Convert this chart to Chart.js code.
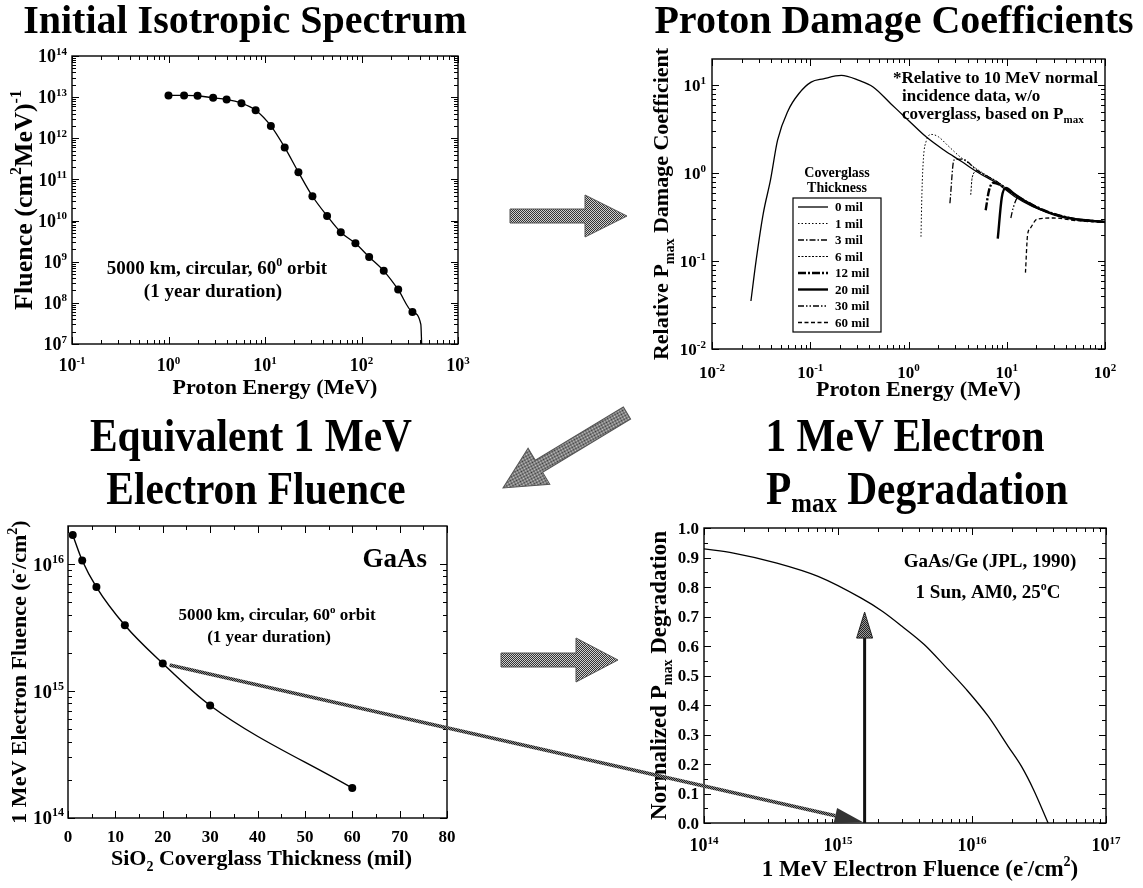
<!DOCTYPE html>
<html>
<head>
<meta charset="utf-8">
<script src="https://cdn.jsdelivr.net/npm/chart.js@4.4.0/dist/chart.umd.min.js"></script>
<style>
  body { margin: 0; background: #fff; }
  #wrap { position: relative; width: 1143px; height: 888px; overflow: hidden; }
  #wrap canvas { position: absolute; left: 0; top: 0; }
  .ttl { position: absolute; font-family: "Liberation Serif", "Times New Roman", serif; font-weight: bold;
         color: #000; white-space: nowrap; line-height: 1; transform: translateX(-50%); }
  .tall { font-size: 46px; transform: translateX(-50%) scaleX(0.9); }
  .ttl sub { font-size: 0.6em; vertical-align: -0.3em; line-height: 0; }
</style>
</head>
<body>
<div id="wrap">
  <canvas id="c1" width="1143" height="888"></canvas>
  <canvas id="c2" width="1143" height="888"></canvas>
  <canvas id="c3" width="1143" height="888"></canvas>
  <canvas id="c4" width="1143" height="888"></canvas>
  <canvas id="ov" width="1143" height="888"></canvas>
  <div class="ttl" style="left:245px;top:0px;font-size:40px">Initial Isotropic Spectrum</div>
  <div class="ttl" style="left:894px;top:0px;font-size:40px">Proton Damage Coefficients</div>
  <div class="ttl tall" style="left:251px;top:413px">Equivalent 1 MeV</div>
  <div class="ttl tall" style="left:256px;top:466px">Electron Fluence</div>
  <div class="ttl tall" style="left:905px;top:413px">1 MeV Electron</div>
  <div class="ttl tall" style="left:917px;top:466px">P<sub>max</sub> Degradation</div>
</div>
<script>
// ---- panel 1: initial isotropic spectrum (MeV, (cm^2 MeV)^-1)
const spectrumEnergy  = [1.0, 1.45, 2.0, 2.9, 4.0, 5.7, 8.0, 11.5, 16, 22.2, 31, 44, 61, 86.5, 120, 170, 240, 337];
const spectrumFluence = [1.1e13, 1.1e13, 1.08e13, 9.6e12, 8.8e12, 7.1e12, 4.8e12, 2.0e12, 6.0e11, 1.5e11,
                         3.9e10, 1.3e10, 5.2e9, 2.8e9, 1.3e9, 6.0e8, 2.1e8, 6.0e7];
const spectrumTailEnergy  = [412, 420];
const spectrumTailFluence = [3.0e7, 1.0e7];

// ---- panel 2: relative Pmax damage coefficients
const coverLabels = ['0 mil', '1 mil', '3 mil', '6 mil', '12 mil', '20 mil', '30 mil', '60 mil'];
const cg0E = [0.0249, 0.0282, 0.0333, 0.0394, 0.0465, 0.0596, 0.0764, 0.102, 0.136, 0.207, 0.313, 0.436, 0.66,
              1.0, 1.51, 2.29, 3.47, 5.26, 7.96, 12.0, 18.2, 27.6, 41.8, 63.4, 100];
const cg0Y = [0.0352, 0.104, 0.352, 0.84, 2.38, 5.2, 8.05, 10.9, 11.9, 13.0, 11.4, 9.6, 6.2,
              4.0, 2.6, 1.84, 1.36, 1.0, 0.77, 0.545, 0.42, 0.352, 0.31, 0.296, 0.277];
const cg1E = [1.34, 1.37, 1.42, 1.51, 1.71, 2.02, 2.49, 3.33, 4.84, 7.33, 11.1, 16.8, 27.6, 50, 100];
const cg1Y = [0.19, 0.6, 1.5, 2.3, 2.77, 2.6, 2.09, 1.55, 1.14, 0.84, 0.62, 0.457, 0.36, 0.3, 0.28];
const cg3E = [2.64, 2.9, 3.5, 5, 8, 12, 18, 28, 50, 100];
const cg3Y = [0.456, 1.41, 1.45, 1.08, 0.8, 0.57, 0.43, 0.355, 0.3, 0.28];
const cg6E = [4.3, 4.45, 5, 6, 8, 12, 18, 28, 50, 100];
const cg6Y = [0.57, 0.9, 1.06, 0.95, 0.8, 0.58, 0.44, 0.355, 0.3, 0.28];
const cg12E = [6.1, 6.6, 7.3, 8.5, 10, 13, 18, 28, 50, 100];
const cg12Y = [0.38, 0.64, 0.78, 0.74, 0.66, 0.54, 0.44, 0.355, 0.3, 0.28];
const cg20E = [8.1, 8.9, 9.8, 12, 16, 22, 30, 50, 100];
const cg20Y = [0.18, 0.53, 0.68, 0.58, 0.47, 0.39, 0.34, 0.3, 0.28];
const cg30E = [11.0, 11.6, 13, 16, 22, 30, 50, 100];
const cg30Y = [0.31, 0.40, 0.53, 0.47, 0.39, 0.34, 0.3, 0.28];
const cg60E = [15.5, 16.3, 17.5, 20.2, 30, 50, 100];
const cg60Y = [0.074, 0.2, 0.24, 0.30, 0.31, 0.29, 0.275];

// ---- panel 3: equivalent 1 MeV electron fluence vs coverglass thickness
const glassMil = [1, 3, 6, 12, 20, 30, 60];
const equivFluence = [1.7e16, 1.07e16, 6.6e15, 3.3e15, 1.65e15, 7.7e14, 1.72e14];

// ---- panel 4: GaAs/Ge Pmax degradation
const elecFluence = [1e14, 1.66e14, 3.5e14, 7.1e14, 1.48e15, 2.14e15, 3.0e15, 4.4e15, 6.3e15, 9.1e15,
                     1.32e16, 1.86e16, 2.34e16, 2.88e16, 3.7e16];
const pmaxRatio = [0.929, 0.915, 0.881, 0.836, 0.763, 0.718, 0.667, 0.605, 0.531, 0.452,
                   0.362, 0.26, 0.192, 0.113, 0.0];
const pickThickness = 20;          // mil, read across to panel 4
const pickFluence = 1.58e15;       // e-/cm2
const pickPmax = 0.715;

// ---- tick labels
const p1XTicks = [0.1, 1, 10, 100, 1000];
const p1XLabels = ['10^{-1}', '10^{0}', '10^{1}', '10^{2}', '10^{3}'];
const p1YTicks = [1e7, 1e8, 1e9, 1e10, 1e11, 1e12, 1e13, 1e14];
const p1YLabels = ['10^{7}', '10^{8}', '10^{9}', '10^{10}', '10^{11}', '10^{12}', '10^{13}', '10^{14}'];
const p2XTicks = [0.01, 0.1, 1, 10, 100];
const p2XLabels = ['10^{-2}', '10^{-1}', '10^{0}', '10^{1}', '10^{2}'];
const p2YTicks = [0.01, 0.1, 1, 10];
const p2YLabels = ['10^{-2}', '10^{-1}', '10^{0}', '10^{1}'];
const p3XTicks = [0, 10, 20, 30, 40, 50, 60, 70, 80];
const p3XLabels = ['0', '10', '20', '30', '40', '50', '60', '70', '80'];
const p3YTicks = [1e14, 1e15, 1e16];
const p3YLabels = ['10^{14}', '10^{15}', '10^{16}'];
const p4XTicks = [1e14, 1e15, 1e16, 1e17];
const p4XLabels = ['10^{14}', '10^{15}', '10^{16}', '10^{17}'];
const p4YTicks = [0, 0.1, 0.2, 0.3, 0.4, 0.5, 0.6, 0.7, 0.8, 0.9, 1.0];
const p4YLabels = ['0.0', '0.1', '0.2', '0.3', '0.4', '0.5', '0.6', '0.7', '0.8', '0.9', '1.0'];

const SERIF = '"Liberation Serif", "Times New Roman", serif';
const W = 1143, H = 888;

// text with ^{sup} and _{sub} parts, centred vertically on y
function richText(ctx, str, x, y, size, align, angle) {
  const parts = str.split(/(\^\{[^}]*\}|_\{[^}]*\})/).filter(s => s).map(s => {
    if (s.startsWith('^{')) return { t: s.slice(2, -1), k: 'sup' };
    if (s.startsWith('_{')) return { t: s.slice(2, -1), k: 'sub' };
    return { t: s, k: '' };
  });
  const fontOf = k => `bold ${k ? Math.round(size * 0.62) : size}px ${SERIF}`;
  let w = 0;
  parts.forEach(p => { ctx.font = fontOf(p.k); p.w = ctx.measureText(p.t).width; w += p.w; });
  ctx.save();
  ctx.translate(x, y);
  if (angle) ctx.rotate(angle);
  ctx.fillStyle = '#000';
  ctx.textAlign = 'left';
  ctx.textBaseline = 'alphabetic';
  let cx = align === 'left' ? 0 : align === 'right' ? -w : -w / 2;
  parts.forEach(p => {
    ctx.font = fontOf(p.k);
    const dy = p.k === 'sup' ? -size * 0.42 : p.k === 'sub' ? size * 0.25 : 0;
    ctx.fillText(p.t, cx, size * 0.34 + dy);
    cx += p.w;
  });
  ctx.restore();
}

function logMinors(lo, hi) {
  const out = [];
  for (let e = Math.floor(Math.log10(lo)); e <= Math.ceil(Math.log10(hi)); e++) {
    for (let k = 2; k <= 9; k++) {
      const v = k * Math.pow(10, e);
      if (v > lo && v < hi) out.push(v);
    }
  }
  return out;
}
function linMinors(lo, hi, step) {
  const out = [];
  for (let v = lo + step; v < hi - 1e-9; v += step) out.push(+v.toFixed(6));
  return out;
}

// box, inward ticks on all four sides, labels and titles
function frame(o) {
  return {
    id: 'frame',
    afterDatasetsDraw(chart) {
      const { ctx, chartArea: a } = chart;
      const sx = chart.scales.x, sy = chart.scales.y;
      ctx.save();
      ctx.strokeStyle = '#000';
      ctx.lineWidth = 1;
      ctx.beginPath();
      const put = (len, vals, scale, horiz) => vals.forEach(v => {
        const p = Math.round(scale.getPixelForValue(v)) + 0.5;
        if (horiz) {
          ctx.moveTo(p, a.bottom); ctx.lineTo(p, a.bottom - len);
          ctx.moveTo(p, a.top); ctx.lineTo(p, a.top + len);
        } else {
          ctx.moveTo(a.left, p); ctx.lineTo(a.left + len, p);
          ctx.moveTo(a.right, p); ctx.lineTo(a.right - len, p);
        }
      });
      put(7, o.xMajor, sx, true);
      put(4, o.xMinor, sx, true);
      put(7, o.yMajor, sy, false);
      put(4, o.yMinor, sy, false);
      ctx.stroke();
      ctx.lineWidth = 1.4;
      ctx.strokeRect(a.left, a.top, a.right - a.left, a.bottom - a.top);
      o.xMajor.forEach((v, i) => richText(ctx, o.xLabels[i], sx.getPixelForValue(v), a.bottom + o.xLabelDy, o.tickSize, 'center'));
      o.yMajor.forEach((v, i) => richText(ctx, o.yLabels[i], a.left - o.yLabelDx, sy.getPixelForValue(v), o.yTickSize || o.tickSize, 'right'));
      richText(ctx, o.xTitle, (a.left + a.right) / 2 + (o.xTitleShift || 0), a.bottom + o.xTitleDy, o.titleSize, 'center');
      richText(ctx, o.yTitle, o.yTitleX, (a.top + a.bottom) / 2, o.yTitleSize || o.titleSize, 'center', -Math.PI / 2);
      (o.notes || []).forEach(n => richText(ctx, n.text, n.x, n.y, n.size, n.align || 'center'));
      ctx.restore();
    }
  };
}

function pts(xs, ys) { return xs.map((x, i) => ({ x, y: ys[i] })); }

function options(plot, xs, ys) {
  return {
    responsive: false, animation: false, devicePixelRatio: 1, events: [],
    layout: { padding: { left: plot.l, top: plot.t, right: W - plot.r, bottom: H - plot.b } },
    plugins: { legend: { display: false }, tooltip: { enabled: false } },
    scales: { x: Object.assign({ display: false }, xs), y: Object.assign({ display: false }, ys) }
  };
}

const lineDs = (data, extra) => Object.assign({
  data, borderColor: '#000', borderWidth: 1.3, pointRadius: 0, fill: false,
  cubicInterpolationMode: 'monotone'
}, extra);
const dotDs = data => ({ data, showLine: false, pointRadius: 4, pointBackgroundColor: '#000', pointBorderWidth: 0 });

// ---------- panel 1
const chart1 = new Chart(document.getElementById('c1'), {
  type: 'line',
  data: {
    datasets: [
      lineDs(pts(spectrumEnergy.concat(spectrumTailEnergy), spectrumFluence.concat(spectrumTailFluence))),
      dotDs(pts(spectrumEnergy, spectrumFluence))
    ]
  },
  options: options({ l: 72, t: 56, r: 458, b: 344 },
    { type: 'logarithmic', min: 0.1, max: 1000 },
    { type: 'logarithmic', min: 1e7, max: 1e14 }),
  plugins: [frame({
    xMajor: p1XTicks, xLabels: p1XLabels, xMinor: logMinors(0.1, 1000),
    yMajor: p1YTicks, yLabels: p1YLabels, yMinor: logMinors(1e7, 1e14),
    tickSize: 18, xLabelDy: 21, yLabelDx: 5,
    titleSize: 22, xTitle: 'Proton Energy (MeV)', xTitleDy: 43, xTitleShift: 10,
    yTitle: 'Fluence (cm^{2}MeV)^{-1}', yTitleX: 23, yTitleSize: 26,
    notes: [
      { text: '5000 km, circular, 60^{0} orbit', x: 217, y: 268, size: 19 },
      { text: '(1 year duration)', x: 213, y: 291, size: 19 }
    ]
  })]
});

// ---------- panel 2
const coverE = [cg0E, cg1E, cg3E, cg6E, cg12E, cg20E, cg30E, cg60E];
const coverY = [cg0Y, cg1Y, cg3Y, cg6Y, cg12Y, cg20Y, cg30Y, cg60Y];
const coverStyle = [
  { borderWidth: 1.3, borderDash: [] },
  { borderWidth: 1, borderDash: [1.5, 2] },
  { borderWidth: 1.3, borderDash: [6, 2, 1.5, 2] },
  { borderWidth: 1, borderDash: [2, 1.5] },
  { borderWidth: 2.4, borderDash: [8, 2, 2, 2] },
  { borderWidth: 2.4, borderDash: [] },
  { borderWidth: 1.3, borderDash: [6, 2, 1.5, 2, 1.5, 2] },
  { borderWidth: 1.3, borderDash: [4, 2.5] }
];

const coverLegend = {
  id: 'coverLegend',
  afterDatasetsDraw(chart) {
    const ctx = chart.ctx;
    const bx = 793, by = 198, bw = 88, bh = 134;
    ctx.save();
    richText(ctx, 'Coverglass', bx + bw / 2, by - 26, 14, 'center');
    richText(ctx, 'Thickness', bx + bw / 2, by - 11, 14, 'center');
    ctx.fillStyle = '#fff';
    ctx.fillRect(bx, by, bw, bh);
    ctx.strokeStyle = '#000';
    ctx.lineWidth = 1.2;
    ctx.strokeRect(bx, by, bw, bh);
    chart.data.datasets.forEach((ds, i) => {
      const y = by + 9 + i * 16.5;
      ctx.beginPath();
      ctx.setLineDash(ds.borderDash);
      ctx.lineWidth = ds.borderWidth;
      ctx.moveTo(bx + 5, y); ctx.lineTo(bx + 35, y);
      ctx.stroke();
      ctx.setLineDash([]);
      richText(ctx, coverLabels[i], bx + 42, y, 13, 'left');
    });
    ctx.restore();
  }
};

const chart2 = new Chart(document.getElementById('c2'), {
  type: 'line',
  data: { datasets: coverE.map((e, i) => lineDs(pts(e, coverY[i]), coverStyle[i])) },
  options: options({ l: 712, t: 59, r: 1105, b: 349 },
    { type: 'logarithmic', min: 0.01, max: 100 },
    { type: 'logarithmic', min: 0.01, max: 20 }),
  plugins: [frame({
    xMajor: p2XTicks, xLabels: p2XLabels, xMinor: logMinors(0.01, 100),
    yMajor: p2YTicks, yLabels: p2YLabels, yMinor: logMinors(0.01, 20),
    tickSize: 17, xLabelDy: 23, yLabelDx: 6,
    titleSize: 22, xTitle: 'Proton Energy (MeV)', xTitleDy: 40, xTitleShift: 10,
    yTitle: 'Relative P_{max} Damage Coefficient', yTitleX: 661,
    notes: [
      { text: '*Relative to 10 MeV normal', x: 893, y: 77, size: 17, align: 'left' },
      { text: 'incidence data, w/o', x: 902, y: 95, size: 17, align: 'left' },
      { text: 'coverglass, based on P_{max}', x: 902, y: 113, size: 17, align: 'left' }
    ]
  }), coverLegend]
});

// ---------- panel 3
const chart3 = new Chart(document.getElementById('c3'), {
  type: 'line',
  data: {
    datasets: [
      lineDs(pts(glassMil, equivFluence), { borderWidth: 1.4 }),
      dotDs(pts(glassMil, equivFluence))
    ]
  },
  options: options({ l: 68, t: 526, r: 447, b: 818 },
    { type: 'linear', min: 0, max: 80 },
    { type: 'logarithmic', min: 1e14, max: 2e16 }),
  plugins: [frame({
    xMajor: p3XTicks, xLabels: p3XLabels, xMinor: linMinors(0, 80, 5),
    yMajor: p3YTicks, yLabels: p3YLabels, yMinor: logMinors(1e14, 2e16),
    tickSize: 17, yTickSize: 19, xLabelDy: 18, yLabelDx: 4,
    titleSize: 22, xTitle: 'SiO_{2} Coverglass Thickness (mil)', xTitleDy: 40, xTitleShift: 4,
    yTitle: '1 MeV Electron Fluence (e^{-}/cm^{2})', yTitleX: 19,
    notes: [
      { text: 'GaAs', x: 427, y: 558, size: 27, align: 'right' },
      { text: '5000 km, circular, 60^{o} orbit', x: 277, y: 614, size: 17 },
      { text: '(1 year duration)', x: 269, y: 636, size: 17 }
    ]
  })]
});

// ---------- panel 4
const chart4 = new Chart(document.getElementById('c4'), {
  type: 'line',
  data: { datasets: [lineDs(pts(elecFluence, pmaxRatio))] },
  options: options({ l: 704, t: 528, r: 1106, b: 823 },
    { type: 'logarithmic', min: 1e14, max: 1e17 },
    { type: 'linear', min: 0, max: 1 }),
  plugins: [frame({
    xMajor: p4XTicks, xLabels: p4XLabels, xMinor: logMinors(1e14, 1e17),
    yMajor: p4YTicks, yLabels: p4YLabels, yMinor: linMinors(0, 1, 0.05),
    tickSize: 18, yTickSize: 17, xLabelDy: 22, yLabelDx: 5,
    titleSize: 23, xTitle: '1 MeV Electron Fluence (e^{-}/cm^{2})', xTitleDy: 45, xTitleShift: 15,
    yTitle: 'Normalized P_{max} Degradation', yTitleX: 658,
    notes: [
      { text: 'GaAs/Ge (JPL, 1990)', x: 990, y: 561, size: 19 },
      { text: '1 Sun, AM0, 25^{o}C', x: 988, y: 592, size: 19 }
    ]
  })]
});

// ---------- overlay: flow arrows and the read-across
const ov = document.getElementById('ov').getContext('2d');

function dither(dark, light) {
  const p = document.createElement('canvas');
  p.width = p.height = 2;
  const g = p.getContext('2d');
  g.fillStyle = light; g.fillRect(0, 0, 2, 2);
  g.fillStyle = dark; g.fillRect(0, 0, 1, 1); g.fillRect(1, 1, 1, 1);
  return ov.createPattern(p, 'repeat');
}

function blockArrow(x0, y0, x1, y1, shaft, head, headLen, fill, stroke) {
  const len = Math.hypot(x1 - x0, y1 - y0);
  ov.save();
  ov.translate(x0, y0);
  ov.rotate(Math.atan2(y1 - y0, x1 - x0));
  ov.beginPath();
  ov.moveTo(0, -shaft);
  ov.lineTo(len - headLen, -shaft);
  ov.lineTo(len - headLen, -head);
  ov.lineTo(len, 0);
  ov.lineTo(len - headLen, head);
  ov.lineTo(len - headLen, shaft);
  ov.lineTo(0, shaft);
  ov.closePath();
  ov.fillStyle = fill;
  ov.fill();
  if (stroke) { ov.strokeStyle = stroke; ov.lineWidth = 1; ov.stroke(); }
  ov.restore();
}

const grey = dither('#333', '#cfcfcf');
blockArrow(510, 216, 627, 216, 7, 21, 42, grey, '#555');
blockArrow(627, 413, 503, 488, 7, 21, 42, grey, '#555');
blockArrow(501, 660, 618, 660, 7, 22, 42, grey, '#555');

// read-across from panel 3 (20 mil) to panel 4
const sx0 = chart3.scales.x.getPixelForValue(pickThickness);
const sy0 = chart3.scales.y.getPixelForValue(equivFluence[glassMil.indexOf(pickThickness)]);
const ex = chart4.scales.x.getPixelForValue(pickFluence);
const ey = chart4.scales.y.getPixelForValue(0);
const ang = Math.atan2(ey - sy0, ex - sx0);
const tipX = ex - 2, tipY = ey - 1;
const hl = 28, hw = 8;
const bxp = tipX - hl * Math.cos(ang), byp = tipY - hl * Math.sin(ang);
ov.save();
ov.strokeStyle = dither('#1e1e1e', '#8a8a8a');
ov.lineWidth = 3.6;
ov.beginPath();
ov.moveTo(sx0 + 7 * Math.cos(ang), sy0 + 7 * Math.sin(ang));
ov.lineTo(bxp, byp);
ov.stroke();
ov.beginPath();
ov.moveTo(tipX, tipY);
ov.lineTo(bxp - hw * Math.sin(ang), byp + hw * Math.cos(ang));
ov.lineTo(bxp + hw * Math.sin(ang), byp - hw * Math.cos(ang));
ov.closePath();
ov.fillStyle = '#333';
ov.fill();
ov.restore();

// vertical arrow up to the degradation curve
const vx = chart4.scales.x.getPixelForValue(pickFluence);
const vTop = chart4.scales.y.getPixelForValue(pickPmax);
const vBot = chart4.scales.y.getPixelForValue(0);
ov.save();
ov.strokeStyle = '#111';
ov.lineWidth = 3;
ov.beginPath();
ov.moveTo(vx, vBot);
ov.lineTo(vx, vTop + 24);
ov.stroke();
ov.beginPath();
ov.moveTo(vx, vTop);
ov.lineTo(vx - 8, vTop + 26);
ov.lineTo(vx + 8, vTop + 26);
ov.closePath();
ov.fillStyle = dither('#222', '#9a9a9a');
ov.fill();
ov.lineWidth = 1;
ov.strokeStyle = '#222';
ov.stroke();
ov.restore();
</script>
</body>
</html>
